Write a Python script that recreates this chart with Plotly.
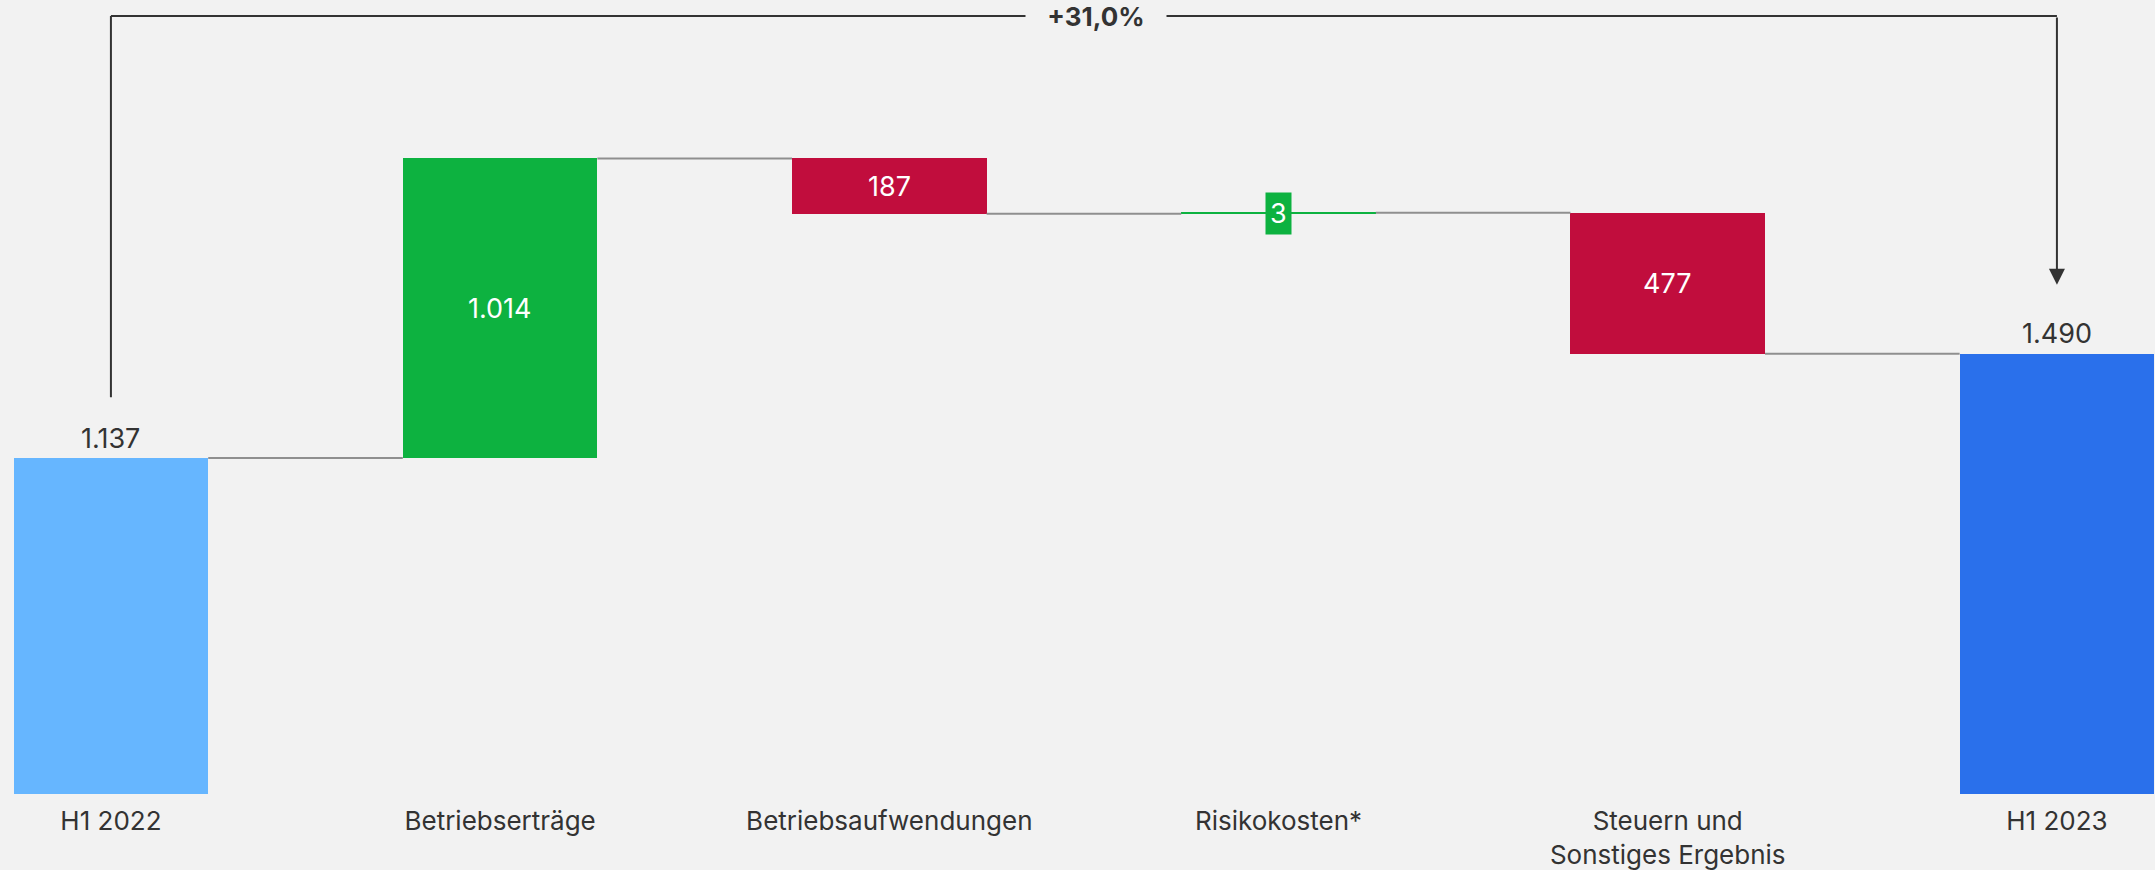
import plotly.graph_objects as go

categories = ["H1 2022", "Betriebserträge", "Betriebsaufwendungen", "Risikokosten*",
              "Steuern und<br>Sonstiges Ergebnis", "H1 2023"]
values = [1137, 1014, -187, 3, -477, 1490]
measures = ["total", "relative", "relative", "relative", "relative", "total"]
change_label = "+31,0%"

COL_START = "#66B6FF"
COL_END = "#2A70EB"
COL_UP = "#0DB240"
COL_DOWN = "#C10D3D"
BG = "#F2F2F2"
TXT = "#333333"
FONT = "Inter"
FS = 26
FSV = 27

def fmt(v):
    return f"{abs(v):,.0f}".replace(",", ".")

# compute bar bases
bases, heights, colors, levels = [], [], [], []
level = 0
for i, (v, m) in enumerate(zip(values, measures)):
    if m == "total":
        bases.append(0)
        heights.append(v)
        level = v
        colors.append(COL_START if i == 0 else COL_END)
    else:
        bases.append(min(level, level + v))
        heights.append(abs(v))
        level = level + v
        colors.append(COL_UP if v > 0 else COL_DOWN)
    levels.append(level)

xs = list(range(len(categories)))
BW = 0.5

fig = go.Figure()
fig.add_trace(go.Bar(x=xs, y=heights, base=bases, width=BW, marker=dict(color=colors, line_width=0),
                     hoverinfo="skip", showlegend=False))

shapes = []
# connectors
for i in range(len(xs) - 1):
    shapes.append(dict(type="line", xref="x", yref="y", x0=xs[i] + BW / 2, x1=xs[i + 1] - BW / 2,
                       y0=levels[i], y1=levels[i], line=dict(color="#8F8F8F", width=2)))

annotations = []
for i, (v, m) in enumerate(zip(values, measures)):
    if m == "total":
        annotations.append(dict(x=xs[i], y=bases[i] + heights[i], text=fmt(v), showarrow=False,
                                yanchor="middle", yshift=20, font=dict(family=FONT, size=FSV, color=TXT)))
    elif heights[i] < 60:
        annotations.append(dict(x=xs[i], y=bases[i] + heights[i] / 2, text=fmt(v), showarrow=False,
                                bgcolor=colors[i], borderpad=4,
                                font=dict(family=FONT, size=FSV, color="white")))
    else:
        annotations.append(dict(x=xs[i], y=bases[i] + heights[i] / 2, text=fmt(v), showarrow=False,
                                font=dict(family=FONT, size=FSV, color="white")))

# bracket
top_y = 2633
start_end = values[0] + 206
end_tip = values[-1] + 233
shapes.append(dict(type="line", xref="x", yref="y", x0=xs[0], x1=xs[0], y0=start_end, y1=top_y,
                   line=dict(color=TXT, width=2)))
shapes.append(dict(type="line", xref="x", yref="y", x0=xs[0], x1=xs[-1], y0=top_y, y1=top_y,
                   line=dict(color=TXT, width=2)))
annotations.append(dict(x=xs[-1], y=end_tip, ax=xs[-1], ay=top_y, axref="x", ayref="y",
                        xref="x", yref="y", text="", showarrow=True, arrowhead=2, arrowsize=1.6,
                        arrowwidth=2, arrowcolor=TXT, standoff=0))
annotations.append(dict(x=2.53, y=top_y, text="<b>" + change_label + "</b>",
                        showarrow=False, bgcolor=BG, width=138, height=36,
                        font=dict(family=FONT, size=FS, color=TXT)))

fig.update_layout(
    width=2155, height=870,
    paper_bgcolor=BG, plot_bgcolor=BG,
    margin=dict(l=0, r=0, t=0, b=76, autoexpand=False),
    shapes=shapes, annotations=annotations,
    bargap=0,
    xaxis=dict(range=[-0.285, 5.252], tickmode="array", tickvals=xs, ticktext=categories,
               showgrid=False, zeroline=False, showline=False, ticks="", automargin=False,
               ticklabelstandoff=9,
               tickfont=dict(family=FONT, size=FS, color=TXT)),
    yaxis=dict(range=[0, 2687], visible=False, showgrid=False, zeroline=False, automargin=False),
    font=dict(family=FONT),
)

fig.write_html("out.html", config={"displayModeBar": False},
               post_script="document.body.style.margin='0';document.body.style.background='#F2F2F2';")
